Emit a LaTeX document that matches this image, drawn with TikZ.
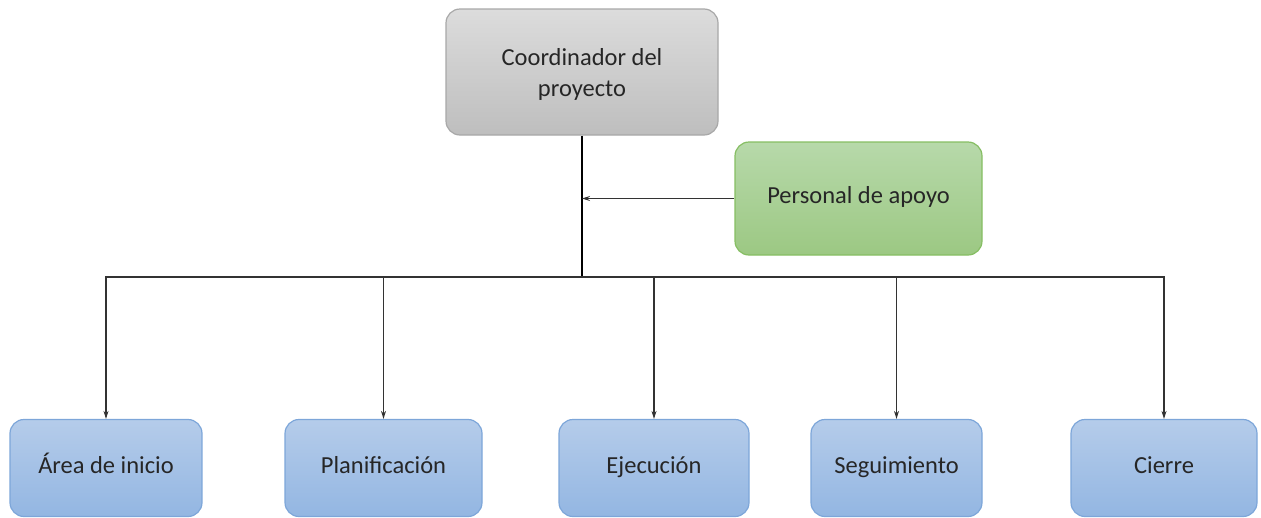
\documentclass[tikz,border=0pt]{standalone}
\usepackage{fontspec}
\setmainfont{Carlito}
\usetikzlibrary{arrows.meta}

\definecolor{grayTop}{HTML}{DCDCDC}
\definecolor{grayBot}{HTML}{BEBEBE}
\definecolor{grayLine}{HTML}{A8A8A8}
\definecolor{greenTop}{HTML}{B7D9AA}
\definecolor{greenBot}{HTML}{9CC883}
\definecolor{greenLine}{HTML}{86BE63}
\definecolor{blueTop}{HTML}{B5CCEA}
\definecolor{blueBot}{HTML}{93B6E2}
\definecolor{blueLine}{HTML}{7DA6D9}

\tikzset{
  box/.style={rounded corners=14pt, line width=1.2pt, align=center,
    text=black!85, font=\fontsize{24.5}{31}\selectfont},
  boss/.style={box, draw=grayLine, top color=grayTop, bottom color=grayBot,
    minimum width=272pt, minimum height=126pt, text depth=0pt},
  helper/.style={box, draw=greenLine, top color=greenTop, bottom color=greenBot,
    minimum width=247pt, minimum height=113pt, text height=1em, text depth=0pt},
  area/.style={box, draw=blueLine, top color=blueTop, bottom color=blueBot,
    minimum height=97pt, text height=1em, text depth=0pt},
  link/.style={->, line width=1.1pt, draw=black!80},
  >={Stealth[length=8pt,width=5pt]}
}

\begin{document}
\begin{tikzpicture}[x=1pt, y=-1pt]
  \useasboundingbox (0,0) rectangle (1261,517);

  \node[boss] (coord) at (582,72) {Coordinador del\\proyecto};
  \node[helper] (apoyo) at (858.5,198.5) {Personal de apoyo};

  \node[area, minimum width=192pt] (inicio) at (106,468) {Área de inicio};
  \node[area, minimum width=197pt] (plan) at (383.5,468) {Planificación};
  \node[area, minimum width=190pt] (ejec) at (654,468) {Ejecución};
  \node[area, minimum width=171pt] (segui) at (896.5,468) {Seguimiento};
  \node[area, minimum width=186pt] (cierre) at (1164,468) {Cierre};

  \coordinate (bus) at (582,277);

  % trunk and support line
  \draw[line width=2.6pt, black] (coord.south) -- (bus);
  \draw[link] (apoyo.west) -- (coord.south |- apoyo.west);

  % branches to the areas
  \foreach \a in {inicio, plan, ejec, segui, cierre}
    \draw[link] (bus) -| (\a.north);
\end{tikzpicture}
\end{document}
